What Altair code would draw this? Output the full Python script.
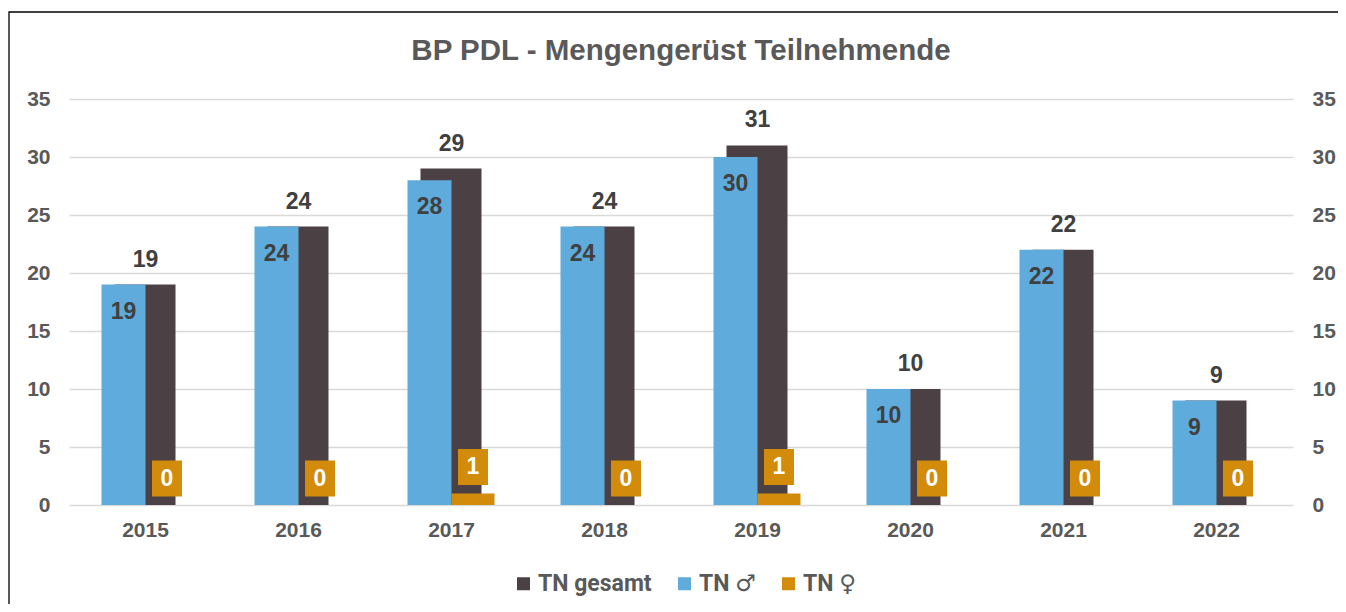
import altair as alt
import pandas as pd

years = ["2015", "2016", "2017", "2018", "2019", "2020", "2021", "2022"]
gesamt = [19, 24, 29, 24, 31, 10, 22, 9]
male = [19, 24, 28, 24, 30, 10, 22, 9]
female = [0, 0, 1, 0, 1, 0, 0, 0]
series = ["TN gesamt", "TN ♂", "TN ♀"]
colors = ["#4b4145", "#5fabdc", "#d28b0a"]
y_ticks = [0, 5, 10, 15, 20, 25, 30, 35]

df = pd.DataFrame({"year": years, "gesamt": gesamt, "male": male, "female": female})

FONT = "Liberation Sans"
GRAY = "#595959"
LABEL = "#404040"

x = alt.X(
    "year:N", sort=years,
    scale=alt.Scale(type="band", paddingInner=0, paddingOuter=0),
    axis=alt.Axis(title=None, labelAngle=0, ticks=False, domain=False, grid=False,
                  labelPadding=14, labelFontSize=21, labelFontWeight="bold",
                  labelColor=GRAY, labelFont=FONT),
)
yscale = alt.Scale(domain=[0, 35], nice=False, zero=True)
yleft = alt.Axis(title=None, values=y_ticks, grid=True, gridColor="#d9d9d9", gridWidth=1.5,
                 domain=False, ticks=False, labelPadding=19, labelFontSize=21,
                 labelFontWeight="bold", labelColor=GRAY, labelFont=FONT)
yright = alt.Axis(title=None, values=y_ticks, grid=False, orient="right",
                  domain=False, ticks=False, labelPadding=19, labelFontSize=21,
                  labelFontWeight="bold", labelColor=GRAY, labelFont=FONT)
color_scale = alt.Scale(domain=series, range=colors)
legend = alt.Legend(orient="none", legendX=443, legendY=473, direction="horizontal",
                    title=None, symbolType="square", symbolSize=169, symbolStrokeWidth=0,
                    labelFontSize=23, labelFont="Roboto, DejaVu Sans",
                    labelFontWeight="bold", labelColor=GRAY, columnPadding=21, labelOffset=3)
color = alt.Color("s:N", scale=color_scale, legend=legend)

base = alt.Chart(df)

border = alt.Chart(pd.DataFrame({"a": [0]})).mark_rect(
    filled=False, color="black", strokeWidth=1.3
).encode(x=alt.value(-60), x2=alt.value(1400), y=alt.value(-87), y2=alt.value(700))

dark = base.mark_bar(width=61, xOffset=-0.5).transform_calculate(s="'TN gesamt'").encode(
    x=x, y=alt.Y("gesamt:Q", scale=yscale, axis=yleft), color=color,
)
blue = base.mark_bar(width=44, xOffset=-22).transform_calculate(s="'TN ♂'").encode(
    x=x, y=alt.Y("male:Q", scale=yscale, axis=yleft), color=color,
)
orange = base.mark_bar(width=43, xOffset=21.5).transform_calculate(s="'TN ♀'").encode(
    x=x, y=alt.Y("female:Q", scale=yscale, axis=yleft), color=color,
)
box = base.mark_point(
    shape="M-1,-1.2H1V1.2H-1Z", size=900, filled=True, color=colors[2], opacity=1,
    xOffset=21.5, yOffset=-26.5, strokeWidth=0
).encode(x=x, y=alt.Y("female:Q", scale=yscale, axis=yleft))

dark_text = base.mark_text(
    dy=-25, baseline="middle", fontSize=23, fontWeight="bold", font=FONT, color=LABEL
).encode(x=x, y=alt.Y("gesamt:Q", scale=yscale, axis=yleft), text="gesamt:Q")
blue_text = base.mark_text(
    dy=27, xOffset=-22, baseline="middle", fontSize=23, fontWeight="bold", font=FONT, color=LABEL
).encode(x=x, y=alt.Y("male:Q", scale=yscale, axis=yleft), text="male:Q")
orange_text = base.mark_text(
    dy=-26, xOffset=21.5, baseline="middle", fontSize=23, fontWeight="bold", font=FONT, color="white"
).encode(x=x, y=alt.Y("female:Q", scale=yscale, axis=yleft), text="female:Q")

right = base.mark_bar(opacity=0, width=1).encode(
    x=x, y=alt.Y("gesamt:Q", scale=yscale, axis=yright)
)

inner = alt.layer(border, dark, blue, orange, box, dark_text, blue_text, orange_text)

chart = alt.layer(inner, right).resolve_scale(y="independent").properties(
    width=1224, height=406,
    padding={"left": 61, "top": 91, "right": 45, "bottom": 99},
    autosize=alt.AutoSizeParams(type="none"),
    title=alt.Title("BP PDL - Mengengerüst Teilnehmende", fontSize=29.5, font=FONT,
                    fontWeight="bold", color=GRAY, offset=-55, anchor="middle"),
).configure(font=FONT).configure_view(strokeOpacity=0)

chart.save("out.html", embed_options={"renderer": "svg", "actions": False})
